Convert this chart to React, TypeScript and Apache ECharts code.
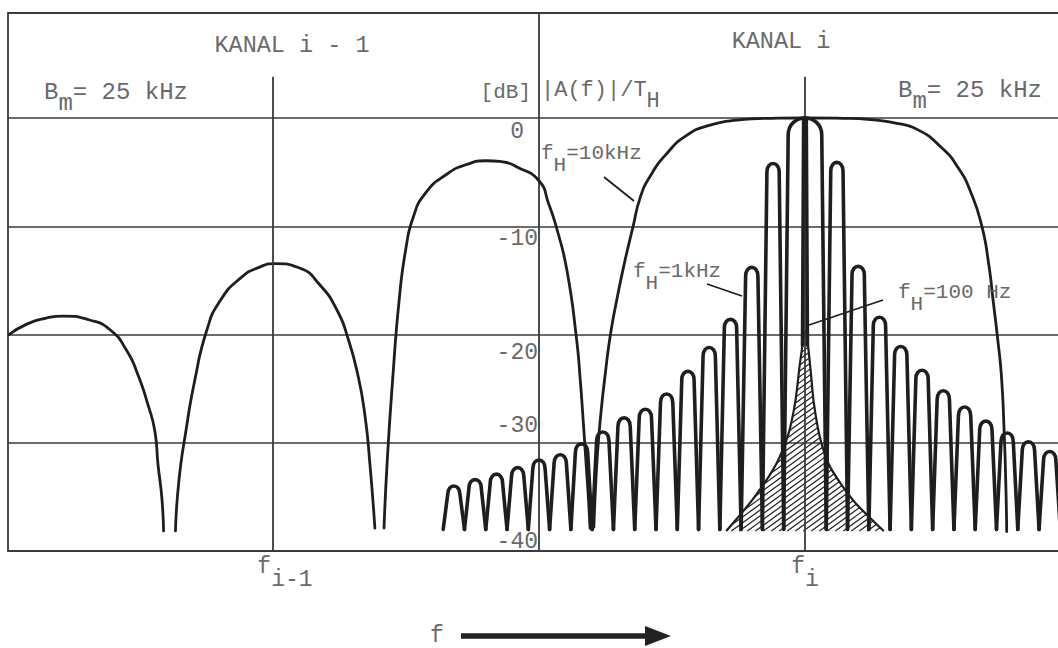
import React, { useEffect, useRef } from "react";
import * as echarts from "echarts";

// ---------- axes ----------
const X_MIN = -37.45; // kHz relative to f_i
const X_MAX = 11.89;
const Y_MIN = -40;
const Y_MAX = 9.7;
const yTicks = [0, -10, -20, -30, -40];
const xTickValues = [-25, 0];
const xTickSubs = ["i-1", "i"];
const channelMarkTop = 3.8; // dB, top end of the f_{i-1} / f_i marker lines

// ---------- f_H = 10 kHz curve (kHz, dB) ----------
const lobeA = [
  [-37.4, -20.0], [-36.54, -19.02], [-35.7, -18.5], [-34.84, -18.3], [-33.62, -18.66], [-32.64, -19.58],
  [-31.86, -21.52], [-31.34, -23.74], [-30.87, -26.51], [-30.55, -28.91], [-30.4, -32.05],
  [-30.22, -35.1], [-30.14, -38.15],
];
const lobeB = [
  [-29.58, -38.15], [-29.42, -33.53], [-29.09, -28.91], [-28.68, -24.3], [-28.12, -19.68],
  [-27.49, -16.91], [-26.5, -14.75], [-25.6, -13.75], [-24.88, -13.45], [-23.75, -13.86], [-22.79, -15.43],
  [-21.97, -17.83], [-21.48, -20.32], [-21.01, -23.74], [-20.68, -27.44], [-20.44, -32.05],
  [-20.21, -37.88],
];
const lobeC = [
  [-19.78, -37.88], [-19.64, -32.05], [-19.38, -24.3], [-19.06, -16.63], [-18.75, -12.01],
  [-18.42, -9.24], [-17.86, -7.0], [-16.8, -5.15], [-15.9, -4.3], [-15.01, -3.95], [-14.2, -4.05], [-13.56, -4.5],
  [-12.5, -5.8], [-12.05, -7.9], [-11.65, -10.3], [-11.18, -14.14], [-10.74, -20.3],
  [-10.56, -24.2], [-10.42, -28.0], [-10.3, -31.5], [-10.18, -35.0], [-10.1, -37.9],
];
const mainLobe10k = [
  [-9.92, -37.8], [-9.85, -34.5], [-9.75, -31.0], [-9.6, -27.5], [-9.4, -23.9],
  [-9.16, -20.25], [-8.85, -16.87], [-8.46, -13.19], [-8.07, -9.97], [-7.75, -7.4],
  [-7.28, -5.4], [-6.5, -3.3], [-5.56, -1.6], [-4.46, -0.65], [-3.2, -0.2], [-1.6, -0.03],
  [0, 0], [1.8, -0.03], [3.1, -0.15], [4.2, -0.45], [5.27, -1.05], [6.4, -2.7], [7.2, -4.6], [7.8, -6.9],
  [8.3, -9.9], [8.62, -13.3], [8.85, -17.0], [9.06, -20.5], [9.23, -23.8],
  [9.36, -29.0], [9.44, -34.0], [9.48, -38.2],
];

// ---------- f_H = 1 kHz lobes ----------
const fh1kLeftCenters = [-1.5, -2.5, -3.5, -4.5, -5.5, -6.5, -7.5, -8.5, -9.5, -10.5, -11.5, -12.5, -13.5, -14.5, -15.5, -16.5];
const fh1kLeftPeaks = [-4.2, -13.8, -18.6, -21.2, -23.4, -25.5, -26.9, -27.7, -29.0, -30.1, -31.1, -31.6, -32.3, -32.9, -33.4, -34.0];
const fh1kRightCenters = [1.5, 2.5, 3.5, 4.5, 5.5, 6.5, 7.5, 8.5, 9.5, 10.5, 11.5];
const fh1kRightPeaks = [-4.1, -13.7, -18.4, -21.1, -23.3, -25.2, -26.7, -28.0, -29.1, -29.9, -30.8];
const fh1kMainLobe = [0, 0, 1.0]; // centre, peak, half width (kHz)
const fh1kSideHalfWidth = 0.5;
const lobeFloor = -38.0;

// ---------- f_H = 100 Hz ----------
const fh100MainLobe = [0, 0, 0.12, -21]; // centre, peak, half width, lower end
const hatchLeft = [[-3.7, -38.15], [-2.4, -35.1], [-1.35, -31.96], [-0.78, -29.2], [-0.45, -26.15], [-0.24, -22.74], [0, -19.7]];
const hatchRight = [[0.1, -20.3], [0.27, -23.4], [0.42, -26.4], [0.74, -29.8], [1.2, -32.3], [2.3, -35.4], [3.7, -38.15]];

// ---------- styles ----------
const FONT = '"Liberation Mono", "DejaVu Sans Mono", monospace';
const TEXT = "#6a6a6a";
const INK = "#1e1e1e";
const GRID = "#3a3a3a";

const fh10kData: any[] = [
  ...lobeA, [-30, "-"], ...lobeB, [-20, "-"], ...lobeC, [-10, "-"], ...mainLobe10k,
];
const fh1kData: number[][] = [
  ...fh1kLeftCenters.map((c, i) => [c, fh1kLeftPeaks[i], fh1kSideHalfWidth, lobeFloor]),
  [fh1kMainLobe[0], fh1kMainLobe[1], fh1kMainLobe[2], lobeFloor],
  ...fh1kRightCenters.map((c, i) => [c, fh1kRightPeaks[i], fh1kSideHalfWidth, lobeFloor]),
];
const hatchEnvelope = [...hatchLeft, ...hatchRight];

const lobeRender = (lineWidth: number) => (params: any, api: any) => {
  const c = api.value(0), p = api.value(1), w = api.value(2), b = api.value(3);
  const L = api.coord([c - w, b]);
  const T = api.coord([c, p]);
  const R = api.coord([c + w, b]);
  const W = R[0] - L[0];
  const a = Math.min(0.22 * W, 4.5);
  const r = Math.min(0.4 * W, 0.5 * (L[1] - T[1]));
  const yT = T[1];
  const d =
    `M${L[0]} ${L[1]}L${L[0] + a} ${yT + r}` +
    `C${L[0] + a} ${yT - 0.33 * r} ${R[0] - a} ${yT - 0.33 * r} ${R[0] - a} ${yT + r}` +
    `L${R[0]} ${R[1]}`;
  return {
    type: "path",
    shape: { pathData: d },
    style: { fill: "none", stroke: INK, lineWidth, lineJoin: "round", lineCap: "round" },
  };
};

function hatchSegments(poly: number[][], spacing: number, angleDeg: number) {
  const t = Math.tan((angleDeg * Math.PI) / 180);
  const xs = poly.map((p) => p[0]);
  const ys = poly.map((p) => p[1]);
  const minX = Math.min(...xs), maxX = Math.max(...xs);
  const minY = Math.min(...ys), maxY = Math.max(...ys);
  const H = maxY - minY;
  let d = "";
  for (let x0 = minX - H / t; x0 <= maxX; x0 += spacing) {
    const hits: number[] = [];
    for (let i = 0; i < poly.length; i++) {
      const [x1, y1] = poly[i];
      const [x2, y2] = poly[(i + 1) % poly.length];
      const g1 = y1 - maxY + (x1 - x0) * t;
      const g2 = y2 - maxY + (x2 - x0) * t;
      if (g1 > 0 !== g2 > 0) {
        const s = g1 / (g1 - g2);
        hits.push(x1 + s * (x2 - x1));
      }
    }
    hits.sort((u, v) => u - v);
    for (let k = 0; k + 1 < hits.length; k += 2) {
      const xa = hits[k], xb = hits[k + 1];
      d += `M${xa} ${maxY - (xa - x0) * t}L${xb} ${maxY - (xb - x0) * t}`;
    }
  }
  return d;
}

const subRich = (size: number, shift: number) => ({
  n: { fontSize: size, lineHeight: size, fontFamily: FONT, color: TEXT, fill: TEXT, verticalAlign: "top" },
  s: { fontSize: size, lineHeight: size, fontFamily: FONT, color: TEXT, fill: TEXT, verticalAlign: "top", padding: [shift, 0, 0, 0] },
});

const gText = (x: number, y: number, text: string, size: number, align = "left", shift = 11) => ({
  type: "text",
  x,
  y,
  z: 20,
  style: {
    text,
    rich: subRich(size, shift),
    fill: TEXT,
    font: `${size}px ${FONT}`,
    fontSize: size,
    fontFamily: FONT,
    textAlign: align,
    align,
    textVerticalAlign: "top",
    verticalAlign: "top",
  },
});

const yLabelStyle: Record<string, string> = { "0": "l0", "-10": "l1", "-20": "l2", "-30": "l3", "-40": "l4" };
const yLab = (pad: number[]) => ({ fontSize: 23, fontFamily: FONT, color: TEXT, padding: pad });

const option: any = {
  animation: false,
  backgroundColor: "#ffffff",
  grid: { left: 8, right: 0, top: 13, bottom: 97, containLabel: false, outerBoundsMode: "none" },
  xAxis: [
    {
      type: "value",
      min: X_MIN,
      max: X_MAX,
      position: "bottom",
      axisLine: { show: true, onZero: false, lineStyle: { color: GRID, width: 1.8 } },
      axisTick: { show: false },
      splitLine: { show: false },
      axisLabel: {
        show: true,
        customValues: xTickValues,
        margin: 4,
        verticalAlign: "top",
        formatter: (v: number) => {
          const i = xTickValues.indexOf(v);
          if (i < 0) return "";
          return i === 0 ? `{fa|f}{s|${xTickSubs[0]}}` : `{f|f}{s|${xTickSubs[1]}}`;
        },
        rich: {
          f: { fontSize: 23, lineHeight: 23, fontFamily: FONT, color: TEXT, verticalAlign: "top" },
          fa: { fontSize: 23, lineHeight: 23, fontFamily: FONT, color: TEXT, verticalAlign: "top", padding: [0, 0, 0, 24] },
          s: { fontSize: 23, lineHeight: 23, fontFamily: FONT, color: TEXT, verticalAlign: "top", padding: [13, 0, 0, 0] },
        },
      },
    },
    {
      type: "value",
      min: X_MIN,
      max: X_MAX,
      position: "top",
      axisLine: { show: true, onZero: false, lineStyle: { color: GRID, width: 1.8 } },
      axisTick: { show: false },
      axisLabel: { show: false },
      splitLine: { show: false },
    },
  ],
  yAxis: [
    {
      type: "value",
      min: Y_MIN,
      max: Y_MAX,
      interval: 10,
      position: "left",
      offset: -531,
      axisLine: { show: true, onZero: false, lineStyle: { color: GRID, width: 1.8 } },
      axisTick: { show: false },
      splitLine: { show: true, lineStyle: { color: GRID, width: 1.6 } },
      axisLabel: {
        show: true,
        margin: 1,
        showMaxLabel: false,
        formatter: (v: number) => {
          if (yTicks.indexOf(v) < 0) return "";
          return `{${yLabelStyle[String(v)]}|${v}}`;
        },
        rich: {
          l0: yLab([27, 14, 0, 0]),
          l1: yLab([25, 0, 0, 0]),
          l2: yLab([37, 0, 0, 0]),
          l3: yLab([0, 0, 33, 0]),
          l4: yLab([0, 0, 18, 0]),
        },
      },
    },
    {
      type: "value",
      min: Y_MIN,
      max: Y_MAX,
      position: "left",
      offset: 0,
      axisLine: { show: true, onZero: false, lineStyle: { color: GRID, width: 1.8 } },
      axisTick: { show: false },
      axisLabel: { show: false },
      splitLine: { show: false },
    },
  ],
  series: [
    {
      name: "f_H=10kHz",
      type: "line",
      xAxisIndex: 0,
      yAxisIndex: 0,
      data: fh10kData,
      showSymbol: false,
      symbol: "none",
      smooth: 0.55,
      connectNulls: false,
      lineStyle: { color: INK, width: 2.8, cap: "round", join: "round" },
      z: 3,
      markLine: {
        silent: true,
        symbol: ["none", "none"],
        label: { show: false },
        lineStyle: { color: GRID, width: 1.8, type: "solid" },
        data: xTickValues.map((v) => [{ coord: [v, Y_MIN] }, { coord: [v, channelMarkTop] }]),
      },
    },
    {
      name: "f_H=1kHz",
      type: "custom",
      xAxisIndex: 0,
      yAxisIndex: 0,
      clip: true,
      encode: { x: 0, y: 1 },
      data: fh1kData,
      renderItem: lobeRender(3.6),
      z: 4,
    },
    {
      name: "f_H=100 Hz",
      type: "custom",
      xAxisIndex: 0,
      yAxisIndex: 0,
      clip: true,
      encode: { x: 0, y: 1 },
      data: [fh100MainLobe],
      renderItem: lobeRender(3.4),
      z: 5,
    },
    {
      name: "f_H=100 Hz hatch",
      type: "custom",
      xAxisIndex: 0,
      yAxisIndex: 0,
      clip: true,
      encode: { x: 0, y: 1 },
      data: hatchEnvelope,
      renderItem: (params: any, api: any) => {
        if (params.dataIndex !== 0) return null;
        const pts = hatchEnvelope.map((p) => api.coord(p));
        return {
          type: "group",
          children: [
            {
              type: "path",
              shape: { pathData: hatchSegments(pts, 8, 36) },
              style: { fill: "none", stroke: INK, lineWidth: 1.2 },
            },
            {
              type: "polyline",
              shape: { points: pts, smooth: 0.25 },
              style: { fill: "none", stroke: INK, lineWidth: 2.2 },
            },
          ],
        };
      },
      z: 4,
    },
  ],
  graphic: [
    gText(292, 33.5, "KANAL i - 1", 23.5, "center"),
    gText(781, 29.5, "KANAL i", 23.5, "center"),
    gText(44, 80, "{n|B}{s|m}{n|= 25 kHz}", 24, "left", 11),
    gText(531, 82, "[dB]", 21, "right"),
    gText(541, 79, "{n||A(f)|/T}{s|H}", 22, "left", 11),
    gText(898, 78.5, "{n|B}{s|m}{n|= 25 kHz}", 24, "left", 11),
    gText(541, 142.5, "{n|f}{s|H}{n|=10kHz}", 21, "left", 12),
    gText(633, 260.5, "{n|f}{s|H}{n|=1kHz}", 21, "left", 12),
    gText(898, 281.5, "{n|f}{s|H}{n|=100 Hz}", 21, "left", 12),
    gText(437, 624, "f", 23, "center"),
    { type: "line", z: 20, shape: { x1: 604, y1: 177, x2: 634, y2: 201 }, style: { stroke: INK, lineWidth: 1.8 } },
    { type: "line", z: 20, shape: { x1: 707, y1: 284, x2: 742, y2: 296 }, style: { stroke: INK, lineWidth: 1.8 } },
    { type: "line", z: 20, shape: { x1: 883, y1: 300, x2: 809, y2: 325 }, style: { stroke: INK, lineWidth: 1.8 } },
    { type: "line", z: 20, shape: { x1: 461, y1: 636, x2: 650, y2: 636 }, style: { stroke: "#222", lineWidth: 5.5 } },
    { type: "polygon", z: 20, shape: { points: [[645, 626], [671, 636], [645, 646]] }, style: { fill: "#222" } },
  ],
};

export default function App() {
  const ref = useRef<HTMLDivElement>(null);
  useEffect(() => {
    if (!ref.current) return;
    const chart = echarts.init(ref.current, null, { renderer: "svg" });
    chart.setOption(option);
    return () => chart.dispose();
  }, []);
  return (
    <div
      ref={ref}
      style={{ position: "absolute", left: 0, top: 0, width: 1058, height: 648, background: "#fff" }}
    />
  );
}
